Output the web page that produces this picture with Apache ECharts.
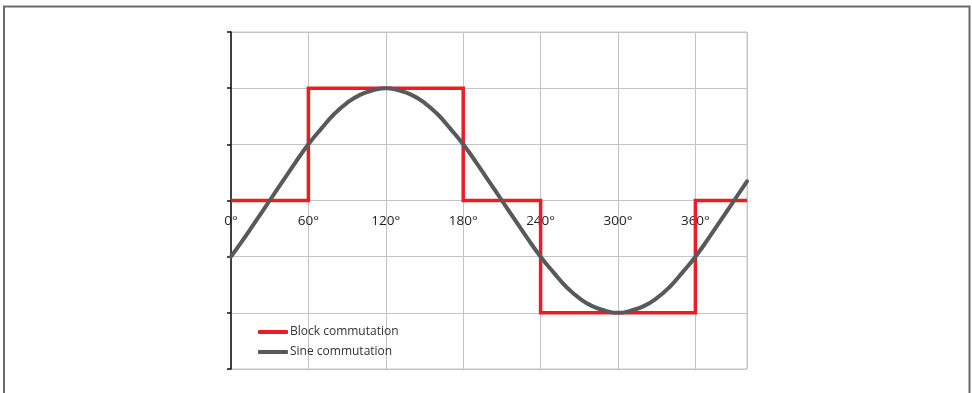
<!DOCTYPE html>
<html>
<head>
<meta charset="utf-8">
<script src="https://cdn.jsdelivr.net/npm/echarts@6/dist/echarts.min.js"></script>
<style>
html,body{margin:0;padding:0;background:#fff;}
#chart{width:972px;height:393px;}
</style>
</head>
<body>
<div id="chart"></div>
<script>
// Angles (degrees) and values
var sineAngles = [0,10,20,30,40,50,60,70,80,90,100,110,120,130,140,150,160,170,180,190,200,210,220,230,240,250,260,270,280,290,300,310,320,330,340,350,360,370,380,390,400];
var sineValues = [-0.50,-0.34,-0.17,0,0.17,0.34,0.50,0.64,0.77,0.87,0.94,0.98,1.00,0.98,0.94,0.87,0.77,0.64,0.50,0.34,0.17,0,-0.17,-0.34,-0.50,-0.64,-0.77,-0.87,-0.94,-0.98,-1.00,-0.98,-0.94,-0.87,-0.77,-0.64,-0.50,-0.34,-0.17,0,0.17];
var blockAngles = [0,60,60,180,180,240,240,360,360,400];
var blockValues = [0,0,1,1,0,0,-1,-1,0,0];
var xTickLabels = {0:'0°',60:'60°',120:'120°',180:'180°',240:'240°',300:'300°',360:'360°'};
var seriesNames = ['Block commutation','Sine commutation'];

var chart = echarts.init(document.getElementById('chart'), null, {renderer:'canvas'});
var font = '"Open Sans", "Noto Sans", sans-serif';
chart.setOption({
  animation: false,
  backgroundColor: '#fff',
  graphic: [{
    type: 'rect',
    shape: {x: 4, y: 6.5, width: 965.5, height: 420},
    style: {fill: 'none', stroke: '#6a6a6a', lineWidth: 2},
    silent: true
  }],
  grid: {
    left: 231, right: 225, top: 32, bottom: 24,
    show: true, borderColor: '#c4c4c4', borderWidth: 1, backgroundColor: 'transparent'
  },
  legend: {
    orient: 'vertical',
    left: 253, top: 321,
    itemWidth: 30, itemHeight: 4, itemGap: 8,
    icon: 'roundRect',
    textStyle: {fontFamily: font, fontSize: 12, color: '#333', padding: [0,0,0,-3]},
    data: seriesNames
  },
  xAxis: {
    type: 'value', min: 0, max: 400, interval: 60,
    position: 'bottom', offset: -168,
    axisLine: {show: false, onZero: false},
    axisTick: {show: false},
    axisLabel: {
      fontFamily: font, fontSize: 13.5, color: '#222', margin: 13,
      showMaxLabel: false,
      formatter: function(v){ return xTickLabels[v] !== undefined ? xTickLabels[v] : ''; }
    },
    splitLine: {show: true, lineStyle: {color: '#c4c4c4', width: 1}}
  },
  yAxis: {
    type: 'value', min: -1.5, max: 1.5, interval: 0.5,
    axisLine: {show: true, onZero: false, lineStyle: {color: '#111', width: 1.5}},
    axisTick: {show: true, inside: false, length: 4, lineStyle: {color: '#111', width: 1.5}},
    axisLabel: {show: false},
    splitLine: {show: true, lineStyle: {color: '#c4c4c4', width: 1}}
  },
  series: [
    {
      name: seriesNames[0], type: 'line', symbol: 'none',
      data: blockAngles.map(function(a,i){ return [a, blockValues[i]]; }),
      lineStyle: {color: '#ed1c24', width: 3.5, join: 'miter'},
      itemStyle: {color: '#ed1c24'},
      z: 3
    },
    {
      name: seriesNames[1], type: 'line', symbol: 'none', smooth: true,
      data: sineAngles.map(function(a,i){ return [a, sineValues[i]]; }),
      lineStyle: {color: '#58595b', width: 4, cap: 'round'},
      itemStyle: {color: '#58595b'},
      z: 4
    }
  ]
});
</script>
</body>
</html>
